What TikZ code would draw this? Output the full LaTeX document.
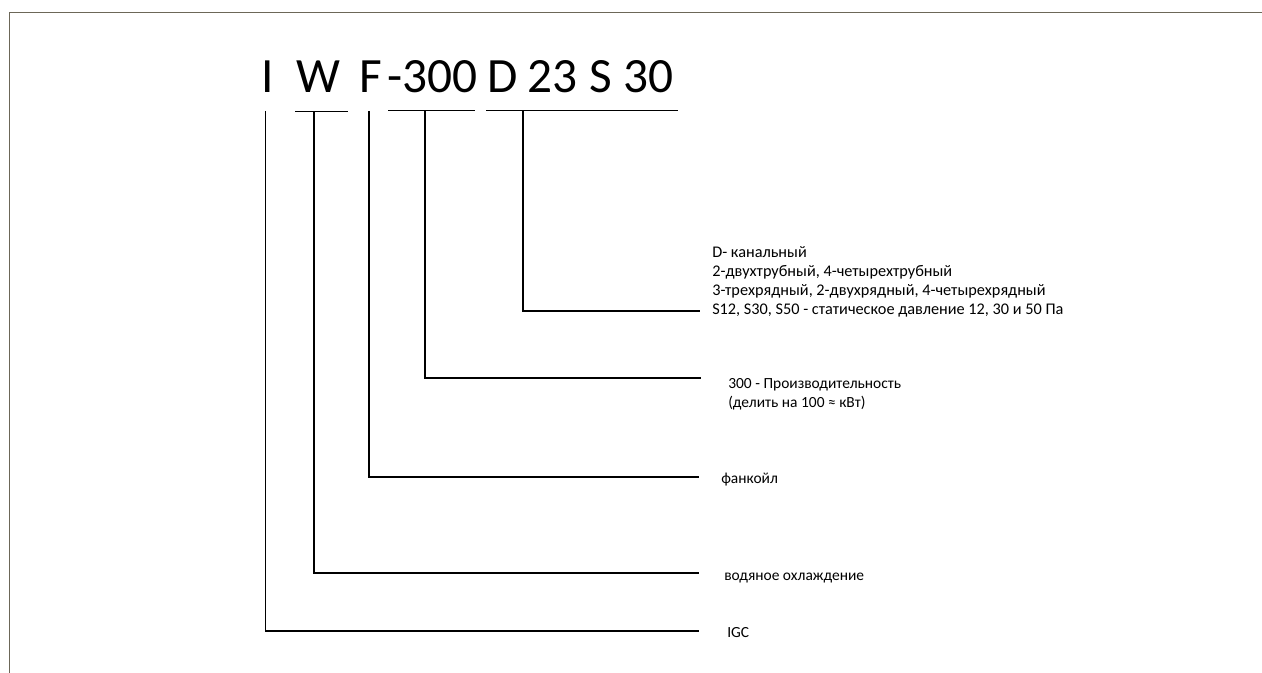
\documentclass[tikz,border=0pt]{standalone}
\usepackage{fontspec}
\setmainfont{Carlito}
\definecolor{framecol}{RGB}{108,103,88}
\begin{document}
\begin{tikzpicture}[x=0.75pt,y=-0.75pt,
  title/.style={font=\fontsize{37}{44}\selectfont, inner sep=0pt, anchor=base west},
  lbl/.style={font=\fontsize{11.6}{14.25}\selectfont, inner sep=0pt, anchor=base west, align=left},
  lblD/.style={lbl, font=\fontsize{12.2}{14.25}\selectfont},
  conn/.style={line width=0.9pt, draw=black},
  framel/.style={line width=1.3pt, draw=framecol}]
\useasboundingbox (0,0) rectangle (1262,673);
% frame
\coordinate (ftl) at (9.5,12.5);
\coordinate (ftr) at (1262,12.5);
\coordinate (fbl) at (9.5,673);
\draw[framel] (fbl) -- (ftl) -- (ftr);
% title
\node[title] (tI) at (261,92.7) {I};
\node[title] (tW) at (296.5,92.7) {W};
\node[title] (tF) at (359,92.7) {F};
\node[title] (t300) at (387.5,92.7) {-300};
\node[title] (tD) at (487,92.7) {D};
\node[title] (t23) at (527,92.7) {23};
\node[title] (tS) at (589.5,92.7) {S};
\node[title] (t30) at (623,92.7) {30};
% labels (base anchor = baseline of last line)
\node[lblD] (lD) at (712,315) {D- канальный\\2-двухтрубный, 4-четырехтрубный\\3-трехрядный, 2-двухрядный, 4-четырехрядный\\S12, S30, S50 - статическое давление 12, 30 и 50 Па};
\node[lbl] (l300) at (728,407) {300 - Производительность\\(делить на 100 ≈ кВт)};
\node[lbl] (lF) at (721,483) {фанкойл};
\node[lbl] (lW) at (724,580) {водяное охлаждение};
\node[lbl] (lI) at (727,637.5) {IGC};
% bars and junctions
\coordinate (bI) at (265.5,111);
\coordinate (bWa) at (295,111.5);
\coordinate (bWb) at (348,111.5);
\coordinate (bW) at (314,111.5);
\coordinate (bF) at (369,111);
\coordinate (b3a) at (388,110.5);
\coordinate (b3b) at (475,110.5);
\coordinate (b3) at (425,110.5);
\coordinate (bDa) at (486,110.5);
\coordinate (bDb) at (678,110.5);
\coordinate (bD) at (523,110.5);
\coordinate (eD) at (700,311);
\coordinate (e3) at (701,378);
\coordinate (eF) at (699,477);
\coordinate (eW) at (699,573);
\coordinate (eI) at (699,631);
\draw[conn] (bWa) -- (bWb);
\draw[conn] (b3a) -- (b3b);
\draw[conn] (bDa) -- (bDb);
\draw[conn] (bI) |- (eI);
\draw[conn] (bW) |- (eW);
\draw[conn] (bF) |- (eF);
\draw[conn] (b3) |- (e3);
\draw[conn] (bD) |- (eD);
\end{tikzpicture}
\end{document}
